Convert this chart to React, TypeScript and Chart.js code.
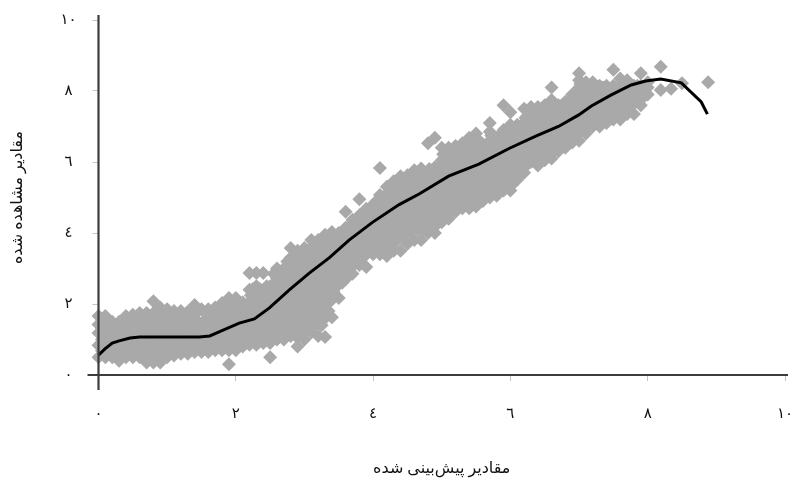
import React, { useEffect, useRef } from "react";
import { Chart, registerables } from "chart.js";

Chart.register(...registerables);

const xTicks = [0, 2, 4, 6, 8, 10];
const yTicks = [0, 2, 4, 6, 8, 10];
const tickText: Record<number, string> = { 0: "٠", 2: "٢", 4: "٤", 6: "٦", 8: "٨", 10: "١٠" };
const xTitle = "مقادیر پیش‌بینی شده";
const yTitle = "مقادیر مشاهده شده";

const curveX = [0, 0.09, 0.2, 0.3, 0.46, 0.6, 1.47, 1.62, 1.79, 2.05, 2.27, 2.49, 2.78, 3.07, 3.36, 3.65, 3.99, 4.38, 4.67, 5.1, 5.54, 5.98, 6.37, 6.7, 6.99, 7.18, 7.47, 7.76, 7.97, 8.19, 8.49, 8.78, 8.87];
const curveY = [0.56, 0.73, 0.9, 0.96, 1.04, 1.07, 1.07, 1.1, 1.24, 1.46, 1.58, 1.89, 2.4, 2.87, 3.3, 3.8, 4.3, 4.8, 5.1, 5.6, 5.94, 6.38, 6.73, 7.0, 7.32, 7.58, 7.89, 8.17, 8.28, 8.34, 8.23, 7.69, 7.35];

const obsX = [0, 0.1, 0.2, 0.3, 0.4, 0.5, 0.6, 0.7, 0.8, 0.9, 1.0, 1.1, 1.2, 1.3, 1.4, 1.5, 1.6, 1.7, 1.8, 1.9, 2.0, 2.1, 2.2, 2.3, 2.4, 2.5, 2.6, 2.7, 2.8, 2.9, 3.0, 3.1, 3.2, 3.3, 3.4, 3.5, 3.6, 3.7, 3.8, 3.9, 4.0, 4.1, 4.2, 4.3, 4.4, 4.5, 4.6, 4.7, 4.8, 4.9, 5.0, 5.1, 5.2, 5.3, 5.4, 5.5, 5.6, 5.7, 5.8, 5.9, 6.0, 6.1, 6.2, 6.3, 6.4, 6.5, 6.6, 6.7, 6.8, 6.9, 7.0, 7.1, 7.2, 7.3, 7.4, 7.5, 7.6, 7.7, 7.8, 7.9, 8.0, 8.19, 8.34, 8.5, 8.88];
const obsY = [
  [0.5, 0.84, 1.18, 1.42, 1.66],
  [0.5, 0.68, 1.02, 1.36, 1.66],
  [0.5, 0.85, 1.2, 1.5],
  [0.4, 0.68, 1.02, 1.3, 1.5],
  [0.5, 0.85, 1.18, 1.42, 1.66],
  [0.5, 0.7, 1.05, 1.38, 1.7],
  [0.5, 0.87, 1.2, 1.52, 1.75],
  [0.35, 0.7, 1.03, 1.37, 1.75],
  [0.35, 0.55, 0.88, 1.2, 1.55, 1.75, 2.08],
  [0.35, 0.7, 1.05, 1.38, 1.7, 1.9],
  [0.5, 0.87, 1.2, 1.52, 1.85],
  [0.55, 0.72, 1.05, 1.38, 1.7, 1.8],
  [0.6, 0.9, 1.22, 1.55, 1.8],
  [0.6, 0.75, 1.08, 1.42, 1.78],
  [0.65, 0.92, 1.25, 1.6, 1.97],
  [0.65, 0.78, 1.1, 1.45, 1.85],
  [0.65, 0.95, 1.28, 1.62, 1.85],
  [0.7, 0.8, 1.13, 1.48, 1.9],
  [0.7, 0.98, 1.3, 1.65, 2.03],
  [0.3, 0.7, 0.85, 1.15, 1.5, 1.85, 2.17],
  [0.7, 1.0, 1.33, 1.68, 2.0, 2.17],
  [0.8, 1.18, 1.5, 1.85, 2.05],
  [0.85, 1.03, 1.35, 1.7, 2.05, 2.4, 2.87],
  [0.85, 1.2, 1.55, 1.88, 2.22, 2.5, 2.87],
  [0.9, 1.05, 1.4, 1.72, 2.05, 2.38, 2.87],
  [0.5, 0.9, 1.22, 1.55, 1.9, 2.22, 2.5],
  [1.0, 1.4, 1.72, 2.05, 2.4, 2.72, 3.0],
  [1.0, 1.22, 1.55, 1.9, 2.22, 2.55, 3.0],
  [1.1, 1.4, 1.75, 2.08, 2.4, 2.75, 3.1, 3.3, 3.58],
  [0.8, 1.05, 1.25, 1.58, 1.9, 2.25, 2.6, 2.92, 3.25, 3.5],
  [1.0, 1.4, 1.75, 2.1, 2.42, 2.78, 3.1, 3.4, 3.58],
  [1.2, 1.58, 1.92, 2.25, 2.6, 2.95, 3.28, 3.6, 3.8],
  [1.1, 1.42, 1.75, 2.1, 2.45, 2.78, 3.12, 3.45, 3.8],
  [1.07, 1.6, 1.92, 2.28, 2.62, 2.95, 3.3, 3.62, 3.95],
  [1.63, 2.12, 2.45, 2.8, 3.12, 3.48, 3.82, 4.03],
  [2.17, 2.55, 2.95, 3.3, 3.65, 4.0],
  [2.7, 3.12, 3.48, 3.82, 4.15, 4.6],
  [2.85, 3.3, 3.65, 4.0, 4.37],
  [3.1, 3.48, 3.82, 4.18, 4.5, 4.95],
  [3.04, 3.4, 3.68, 4.02, 4.35, 4.68],
  [3.4, 3.85, 4.2, 4.52, 4.8],
  [3.4, 3.7, 4.05, 4.38, 4.72, 5.07, 5.83],
  [3.35, 3.6, 3.88, 4.22, 4.55, 4.9, 5.3],
  [3.5, 3.72, 4.08, 4.42, 4.78, 5.12, 5.46],
  [3.5, 3.9, 4.25, 4.6, 4.95, 5.28, 5.6],
  [3.7, 4.1, 4.45, 4.78, 5.12, 5.45, 5.63],
  [3.8, 4.3, 4.62, 4.98, 5.3, 5.77],
  [3.8, 4.12, 4.48, 4.82, 5.15, 5.5, 5.82],
  [4.0, 4.3, 4.65, 5.0, 5.35, 5.7, 6.53],
  [4.0, 4.5, 4.85, 5.18, 5.52, 5.85, 6.68],
  [4.3, 4.68, 5.02, 5.35, 5.7, 6.05, 6.4],
  [4.4, 4.85, 5.2, 5.52, 5.88, 6.22, 6.4],
  [4.6, 5.02, 5.38, 5.7, 6.05, 6.45],
  [4.7, 5.2, 5.55, 5.9, 6.22, 6.53],
  [4.7, 5.02, 5.38, 5.72, 6.08, 6.4, 6.68],
  [4.75, 5.2, 5.55, 5.9, 6.25, 6.58, 6.8],
  [4.9, 5.38, 5.72, 6.08, 6.42, 6.5],
  [5.0, 5.22, 5.55, 5.9, 6.25, 6.6, 6.85, 7.1],
  [5.05, 5.4, 5.75, 6.1, 6.42, 6.68],
  [5.2, 5.58, 5.92, 6.28, 6.6, 6.9, 7.6],
  [5.2, 5.45, 5.75, 6.1, 6.45, 6.78, 7.05, 7.4],
  [5.5, 5.92, 6.28, 6.62, 6.95, 7.05],
  [5.7, 6.1, 6.45, 6.8, 7.12, 7.5],
  [6.0, 6.28, 6.62, 6.98, 7.3, 7.55],
  [5.9, 6.45, 6.8, 7.15, 7.55],
  [6.05, 6.3, 6.62, 6.98, 7.32, 7.6],
  [6.1, 6.45, 6.8, 7.15, 7.5, 7.75, 8.1],
  [6.3, 6.65, 6.98, 7.32, 7.6],
  [6.4, 6.82, 7.15, 7.5, 7.7],
  [6.55, 6.98, 7.32, 7.65, 7.9],
  [6.6, 7.15, 7.5, 7.82, 8.1, 8.3, 8.5],
  [6.8, 7.32, 7.65, 8.0, 8.25],
  [7.0, 7.5, 7.82, 8.25],
  [7.0, 7.35, 7.65, 8.0, 8.15],
  [7.1, 7.5, 7.82, 8.15],
  [7.2, 7.65, 8.0, 8.15, 8.6],
  [7.2, 7.5, 7.82, 8.15, 8.35],
  [7.35, 7.65, 8.0, 8.3],
  [7.35, 7.82, 8.0, 8.15],
  [7.6, 8.0, 8.15, 8.5],
  [7.9, 8.1, 8.25],
  [8.03, 8.68],
  [8.06],
  [8.22],
  [8.25],
];

const innerX = [0.05, 0.15, 0.25, 0.35, 0.45, 0.55, 0.65, 0.75, 0.85, 0.95, 1.05, 1.15, 1.25, 1.35, 1.45, 1.55, 1.65, 1.75, 1.85, 1.95, 2.05, 2.15, 2.25, 2.35, 2.45, 2.55, 2.65, 2.75, 2.85, 2.95, 3.05, 3.15, 3.25, 3.35, 3.45, 3.55, 3.65, 3.75, 3.85, 3.95, 4.05, 4.15, 4.25, 4.35, 4.45, 4.55, 4.65, 4.75, 4.85, 4.95, 5.05, 5.15, 5.25, 5.35, 5.45, 5.55, 5.65, 5.75, 5.85, 5.95, 6.05, 6.15, 6.25, 6.35, 6.45, 6.55, 6.65, 6.75, 6.85, 6.95, 7.05, 7.15, 7.25, 7.35, 7.45, 7.55, 7.65, 7.75, 7.85, 7.95];
const innerY = [
  [0.68, 1.0, 1.3, 1.55],
  [0.65, 0.95, 1.25, 1.5],
  [0.6, 0.9, 1.2, 1.38],
  [0.55, 0.85, 1.15, 1.4],
  [0.65, 1.0, 1.3, 1.55],
  [0.65, 0.95, 1.25, 1.55],
  [0.65, 1.0, 1.35, 1.6],
  [0.5, 0.85, 1.2, 1.55],
  [0.5, 0.75, 1.05, 1.38, 1.7],
  [0.6, 0.95, 1.3, 1.6],
  [0.7, 1.0, 1.3, 1.6],
  [0.75, 1.05, 1.35, 1.65],
  [0.75, 1.1, 1.4, 1.65],
  [0.8, 1.15, 1.45, 1.75],
  [0.85, 1.2, 1.5, 1.8],
  [0.8, 1.15, 1.5, 1.75],
  [0.85, 1.2, 1.5, 1.75],
  [0.9, 1.25, 1.55, 1.85],
  [0.85, 1.2, 1.55, 1.9],
  [0.9, 1.25, 1.6, 2.0],
  [0.95, 1.3, 1.65, 1.98],
  [1.0, 1.35, 1.7, 1.95],
  [1.0, 1.38, 1.72, 2.1, 2.42],
  [1.05, 1.4, 1.75, 2.1, 2.42],
  [1.1, 1.45, 1.8, 2.15, 2.5],
  [1.15, 1.5, 1.85, 2.2, 2.55, 2.85],
  [1.2, 1.55, 1.9, 2.25, 2.6, 2.9],
  [1.25, 1.6, 1.95, 2.3, 2.65, 2.95, 3.2],
  [1.3, 1.65, 2.0, 2.35, 2.7, 3.0, 3.35],
  [1.2, 1.6, 1.95, 2.3, 2.65, 3.0, 3.35],
  [1.3, 1.65, 2.0, 2.35, 2.7, 3.05, 3.35],
  [1.4, 1.75, 2.1, 2.45, 2.8, 3.15, 3.5],
  [1.4, 1.75, 2.1, 2.45, 2.8, 3.15, 3.5, 3.75],
  [1.8, 2.15, 2.5, 2.85, 3.2, 3.55, 3.85],
  [2.25, 2.6, 2.95, 3.3, 3.65, 3.9],
  [2.6, 2.95, 3.3, 3.65, 4.0],
  [2.95, 3.3, 3.65, 4.0, 4.2],
  [3.2, 3.55, 3.9, 4.25],
  [3.3, 3.6, 3.95, 4.3, 4.55],
  [3.55, 3.9, 4.25, 4.6],
  [3.6, 3.95, 4.3, 4.65, 4.9],
  [3.6, 3.95, 4.3, 4.65, 5.0],
  [3.7, 4.05, 4.4, 4.75, 5.1],
  [3.8, 4.15, 4.5, 4.85, 5.2, 5.4],
  [3.9, 4.25, 4.6, 4.95, 5.3, 5.5],
  [4.05, 4.4, 4.75, 5.1, 5.45],
  [4.1, 4.45, 4.8, 5.15, 5.5, 5.7],
  [4.1, 4.5, 4.85, 5.2, 5.55],
  [4.25, 4.6, 4.95, 5.3, 5.65],
  [4.4, 4.75, 5.1, 5.45, 5.8],
  [4.55, 4.9, 5.25, 5.6, 5.95, 6.2],
  [4.7, 5.05, 5.4, 5.75, 6.1],
  [4.9, 5.25, 5.6, 5.95, 6.3],
  [4.95, 5.3, 5.65, 6.0, 6.35],
  [5.0, 5.35, 5.7, 6.05, 6.4, 6.6],
  [5.1, 5.45, 5.8, 6.15, 6.5],
  [5.2, 5.55, 5.9, 6.25, 6.45],
  [5.25, 5.6, 5.95, 6.3, 6.6],
  [5.35, 5.7, 6.05, 6.4, 6.75],
  [5.45, 5.8, 6.15, 6.5, 6.85],
  [5.6, 5.95, 6.3, 6.65, 6.95],
  [5.75, 6.1, 6.45, 6.8, 7.0],
  [5.95, 6.3, 6.65, 7.0, 7.3],
  [6.15, 6.45, 6.8, 7.15, 7.45],
  [6.2, 6.55, 6.9, 7.25, 7.5],
  [6.3, 6.65, 7.0, 7.35, 7.6],
  [6.5, 6.85, 7.2, 7.55],
  [6.55, 6.9, 7.25, 7.6],
  [6.65, 7.0, 7.35, 7.7],
  [6.8, 7.15, 7.5, 7.85],
  [6.95, 7.3, 7.65, 7.95, 8.15],
  [7.15, 7.5, 7.85, 8.1],
  [7.2, 7.55, 7.9, 8.1],
  [7.25, 7.6, 7.9, 8.1],
  [7.35, 7.7, 8.0],
  [7.4, 7.75, 8.05],
  [7.45, 7.8, 8.05, 8.25],
  [7.55, 7.85, 8.1],
  [7.7, 7.95, 8.15],
  [7.85, 8.1],
];

const coreX = [2.22, 2.32, 2.42, 2.52, 2.62, 2.72, 2.82, 2.92, 3.02, 3.12, 3.22, 3.32, 3.42, 3.52, 3.62, 3.72, 3.82, 3.92, 4.02, 4.12, 4.22, 4.32, 4.42, 4.52, 4.62, 4.72, 4.82, 4.92, 5.02, 5.12, 5.22, 5.32, 5.42, 5.52, 5.62, 5.72, 5.82, 5.92, 6.02, 6.12, 6.22, 6.32, 6.42, 6.52, 6.62, 6.72, 6.82, 6.92, 7.02, 7.12, 7.22, 7.32, 7.42, 7.52, 7.62, 7.72];
const coreY = [
  [1.2, 1.55, 1.9, 2.25],
  [1.15, 1.5, 1.9, 2.25],
  [1.2, 1.58, 1.95, 2.28],
  [1.3, 1.68, 2.05, 2.38],
  [1.3, 1.65, 2.0, 2.42, 2.8],
  [1.4, 1.78, 2.12, 2.48, 2.82],
  [1.5, 1.85, 2.2, 2.55, 2.9, 3.2],
  [1.4, 1.78, 2.15, 2.5, 2.85, 3.2],
  [1.5, 1.85, 2.2, 2.55, 2.9, 3.25],
  [1.45, 1.85, 2.2, 2.55, 2.9, 3.22, 3.55],
  [1.55, 1.9, 2.25, 2.6, 2.95, 3.3, 3.62],
  [2.05, 2.4, 2.75, 3.1, 3.45, 3.75],
  [2.35, 2.7, 3.05, 3.4, 3.75],
  [2.75, 3.1, 3.45, 3.8],
  [3.05, 3.42, 3.78, 4.1],
  [3.1, 3.45, 3.8, 4.15],
  [3.25, 3.65, 4.02, 4.35],
  [3.6, 3.95, 4.15, 4.5],
  [3.65, 4.02, 4.38, 4.65],
  [3.55, 3.85, 4.2, 4.55, 4.88],
  [3.8, 4.15, 4.5, 4.85, 5.15],
  [3.9, 4.28, 4.62, 4.98, 5.3],
  [4.05, 4.42, 4.78, 5.12, 5.42],
  [4.22, 4.58, 4.92, 5.28, 5.55],
  [4.22, 4.6, 4.95, 5.3, 5.6],
  [4.3, 4.68, 5.02, 5.38, 5.68],
  [4.15, 4.45, 4.8, 5.15, 5.5, 5.8],
  [4.22, 4.62, 4.98, 5.32, 5.68],
  [4.5, 4.85, 5.2, 5.55, 5.88, 6.22],
  [4.62, 5.0, 5.35, 5.7, 6.05, 6.3],
  [4.8, 5.15, 5.5, 5.85, 6.2],
  [4.85, 5.2, 5.55, 5.9, 6.25, 6.4],
  [4.88, 5.22, 5.58, 5.92, 6.28, 6.55],
  [4.95, 5.3, 5.65, 6.0, 6.35, 6.65],
  [5.12, 5.48, 5.82, 6.18, 6.4],
  [5.15, 5.5, 5.85, 6.2, 6.5, 6.75],
  [5.25, 5.6, 5.95, 6.28, 6.55],
  [5.38, 5.75, 6.1, 6.45, 6.78],
  [5.35, 5.62, 5.98, 6.32, 6.68, 6.95],
  [5.65, 6.02, 6.38, 6.72, 7.0],
  [5.88, 6.22, 6.58, 6.92, 7.25],
  [6.12, 6.48, 6.82, 7.15, 7.4],
  [6.15, 6.5, 6.85, 7.2, 7.45],
  [6.2, 6.55, 6.9, 7.22, 7.5],
  [6.28, 6.62, 6.98, 7.32, 7.62],
  [6.48, 6.82, 7.15, 7.45],
  [6.6, 6.95, 7.3, 7.62],
  [6.75, 7.1, 7.45, 7.78],
  [6.85, 7.22, 7.58, 7.92, 8.2],
  [7.05, 7.4, 7.75, 8.08],
  [7.2, 7.68, 8.05],
  [7.2, 7.5, 7.82, 8.05],
  [7.28, 7.62, 7.95],
  [7.4, 7.8, 8.08],
  [7.38, 7.68, 7.95, 8.2],
  [7.5, 7.78, 8.1],
];

const FONT = "'Liberation Serif', 'DejaVu Sans', serif";
const AXIS = "#3c3c3c";

const axisCross = {
  id: "axisCross",
  afterDatasetsDraw(chart: any) {
    const { ctx, scales } = chart;
    const x0 = scales.x.getPixelForValue(0);
    const x10 = scales.x.getPixelForValue(10);
    const y0 = scales.y.getPixelForValue(0);
    const y10 = scales.y.getPixelForValue(10);
    ctx.save();
    ctx.strokeStyle = AXIS;
    ctx.lineWidth = 2.2;
    ctx.beginPath();
    ctx.moveTo(x0 - 11, y0);
    ctx.lineTo(x10 + 3, y0);
    ctx.moveTo(x0, y10 - 5);
    ctx.lineTo(x0, y0 + 15);
    ctx.stroke();
    ctx.restore();
  },
};

export default function App() {
  const ref = useRef<HTMLCanvasElement>(null);
  useEffect(() => {
    const points = [
      ...obsX.flatMap((x, i) => obsY[i].map((y) => ({ x, y }))),
      ...innerX.flatMap((x, i) => innerY[i].map((y) => ({ x, y }))),
      ...coreX.flatMap((x, i) => coreY[i].map((y) => ({ x, y }))),
    ];
    const chart = new Chart(ref.current as HTMLCanvasElement, {
      type: "scatter",
      data: {
        datasets: [
          {
            label: "line",
            type: "line",
            data: curveX.map((x, i) => ({ x, y: curveY[i] })),
            borderColor: "#000000",
            borderWidth: 3,
            pointRadius: 0,
            tension: 0,
            fill: false,
            clip: false,
            order: 0,
          },
          {
            label: "obs",
            data: points,
            pointStyle: "rectRot",
            pointRadius: 7,
            pointBorderWidth: 0,
            pointBackgroundColor: "#a9a9a9",
            borderColor: "#a9a9a9",
            clip: false,
            order: 1,
          },
        ] as any,
      },
      plugins: [axisCross],
      options: {
        responsive: false,
        animation: false,
        layout: { padding: { top: 20, right: 5, left: 0, bottom: 0 } },
        plugins: { legend: { display: false }, tooltip: { enabled: false } },
        scales: {
          x: {
            type: "linear",
            min: 0,
            max: 10,
            afterFit: (s: any) => { s.height = 105; s.paddingLeft = 0; s.paddingRight = 0; },
            afterBuildTicks: (s: any) => { s.ticks = xTicks.map((value) => ({ value })); },
            grid: { drawOnChartArea: false, drawTicks: true, tickLength: 6, tickColor: "#c4c4c4", tickWidth: 1 },
            border: { display: false },
            ticks: {
              autoSkip: false,
              maxRotation: 0,
              padding: 24,
              color: "#111111",
              font: { family: FONT, size: 15 },
              callback: (v: any) => tickText[v as number],
            },
            title: {
              display: true,
              text: xTitle,
              color: "#111111",
              font: { family: FONT, size: 16 },
              padding: { top: 0, bottom: 2 },
            },
          },
          y: {
            type: "linear",
            min: 0,
            max: 10,
            afterFit: (s: any) => { s.width = 98.5; s.paddingTop = 0; s.paddingBottom = 0; },
            afterBuildTicks: (s: any) => { s.ticks = yTicks.map((value) => ({ value })); },
            grid: { drawOnChartArea: false, drawTicks: true, tickLength: 6, tickColor: "#c4c4c4", tickWidth: 1 },
            border: { display: false },
            ticks: {
              autoSkip: false,
              padding: 16,
              crossAlign: "center",
              color: "#111111",
              font: { family: FONT, size: 15 },
              callback: (v: any) => tickText[v as number],
            },
            title: {
              display: true,
              text: yTitle,
              color: "#111111",
              font: { family: FONT, size: 16 },
              padding: { top: 8, bottom: 0 },
            },
          },
        },
      } as any,
    });
    return () => chart.destroy();
  }, []);
  return (
    <div style={{ position: "fixed", left: 0, top: 0, width: 792, height: 480, background: "#ffffff" }}>
      <canvas ref={ref} width={792} height={480} style={{ display: "block" }} />
    </div>
  );
}
